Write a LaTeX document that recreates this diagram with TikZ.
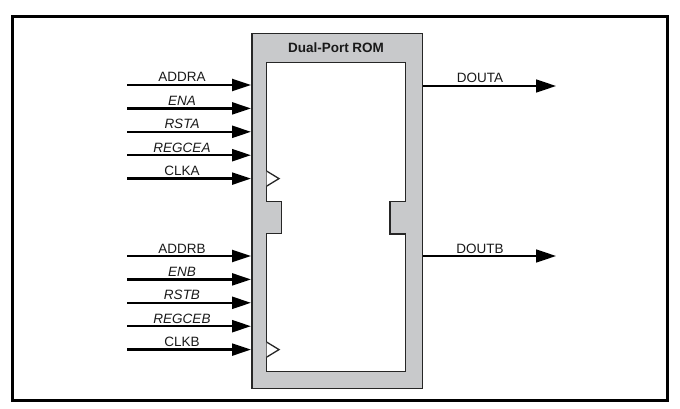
\documentclass[tikz,border=0pt]{standalone}
\usepackage{fontspec}
\setmainfont{Liberation Sans}
\usetikzlibrary{arrows.meta}

\definecolor{romgray}{HTML}{C8C9CB}
\definecolor{romedge}{HTML}{262626}

\tikzset{
  insig/.style={line width=2.3pt, -{Triangle[length=19pt,width=12pt]}},
  outsig/.style={line width=1.6pt, -{Triangle[length=20pt,width=13pt]}},
  pinlabel/.style={anchor=base, inner sep=0pt, text=black!90,
    font=\fontsize{13.5}{16}\selectfont},
}

\begin{document}
\begin{tikzpicture}[x=1pt, y=-1pt]
\useasboundingbox (0,0) rectangle (680,409);

% Frame
\draw[line width=3pt] (12.5,16.5) rectangle (667,400.5);

% ROM block
\node[draw=romedge, line width=1.5pt, fill=romgray, anchor=north west,
      minimum width=170.7pt, minimum height=354.7pt, inner sep=0pt] (rom) at (251,33) {};
\node[pinlabel, font=\bfseries\fontsize{13.5}{16}\selectfont] (title) at (336,53) {Dual-Port ROM};

% Inner area with notches
\draw[romedge, line width=1.3pt, fill=white]
  (266.7,62.7) -- (405.7,62.7) -- (405.7,201.7) -- (390,201.7) -- (390,234)
  -- (405.7,234) -- (405.7,371.7) -- (266.7,371.7) -- (266.7,233.3)
  -- (281.7,233.3) -- (281.7,201.7) -- (266.7,201.7) -- cycle;

% Inputs
\foreach \name/\lab/\y in {addra/ADDRA/85, ena/\textit{ENA}/108.4, rsta/\textit{RSTA}/131.8,
    regcea/\textit{REGCEA}/155.2, clka/CLKA/178.6,
    addrb/ADDRB/256, enb/\textit{ENB}/279.4, rstb/\textit{RSTB}/302.8,
    regceb/\textit{REGCEB}/326.2, clkb/CLKB/349.6} {
  \coordinate (\name-in) at (127,\y);
  \coordinate (\name-pin) at (rom.west |- \name-in);
  \draw[insig] (\name-in) -- (\name-pin);
  \node[pinlabel] (\name-lab) at (182,\y-3) {\lab};
}

% Clock marks
\draw[romedge, line width=1.3pt, fill=white] (266.7,171.1) -- (279,178.6) -- (266.7,186.1);
\draw[romedge, line width=1.3pt, fill=white] (266.7,342.1) -- (279,349.6) -- (266.7,357.1);

% Outputs
\foreach \name/\lab/\y in {douta/DOUTA/86, doutb/DOUTB/256} {
  \coordinate (\name-pin) at (rom.east |- 0,\y);
  \coordinate (\name-out) at (556,\y);
  \draw[outsig] (\name-pin) -- (\name-out);
  \node[pinlabel] (\name-lab) at (480,\y-3) {\lab};
}

\end{tikzpicture}
\end{document}
